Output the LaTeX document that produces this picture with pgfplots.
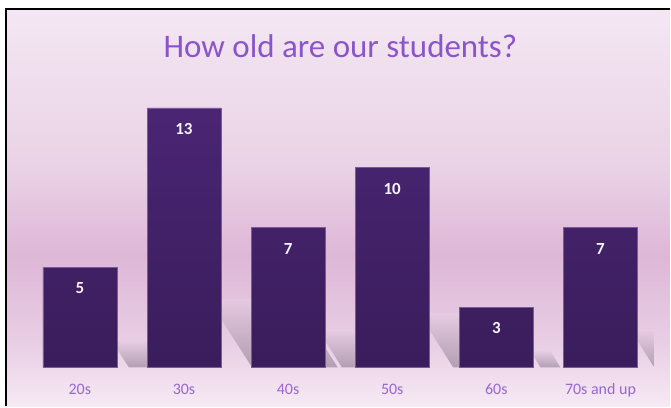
\documentclass[border=0pt]{standalone}
\usepackage{pgfplots}
\pgfplotsset{compat=1.18}
\usepackage{fontspec}
\setmainfont{Carlito}
\definecolor{bgtop}{HTML}{F4E7F3}
\definecolor{bgup}{HTML}{E9D2E5}
\definecolor{bgmid}{HTML}{DEB7D7}
\definecolor{bglow}{HTML}{E8CEE4}
\definecolor{bgbot}{HTML}{F6EAF4}
\definecolor{titlec}{HTML}{8A55C8}
\definecolor{tickc}{HTML}{9867CF}
\definecolor{bartop}{HTML}{4A2574}
\definecolor{barbot}{HTML}{3A1D5B}
\definecolor{baredge}{HTML}{7A5A9C}
\definecolor{shadowc}{HTML}{7E6E84}
\pgfdeclareverticalshading{bgshade}{100bp}{color(0bp)=(bgbot); color(25bp)=(bgbot); color(33bp)=(bglow); color(44bp)=(bgmid); color(55bp)=(bgup); color(75bp)=(bgtop); color(100bp)=(bgtop)}
\pgfplotsset{shadowstyle/.style={draw=none, top color=bglow, middle color=shadowc, bottom color=shadowc!85!bglow, fill opacity=0.62, forget plot}}
\begin{document}
\begin{tikzpicture}
\fill[white] (0bp,0bp) rectangle (671bp,407bp);
\shade[shading=bgshade] (6bp,0bp) rectangle (671bp,398bp);
\draw[line width=2.2bp, black] (6bp,0bp) -- (6bp,398bp) -- (671bp,398bp);
\node[font=\fontsize{33bp}{40bp}\selectfont, text=titlec, anchor=base] at (341bp,349bp) {How old are our students?};
\begin{axis}[
  at={(27.85bp,39bp)}, anchor=south west,
  scale only axis, width=626.8bp, height=280bp,
  xmin=-0.5, xmax=5.51, ymin=0, ymax=14,
  axis line style={draw=none}, tick style={draw=none},
  ytick=\empty,
  xtick={0,1,2,3,4,5},
  xticklabels={20s,30s,40s,50s,60s,70s and up},
  xticklabel style={font=\fontsize{16bp}{19bp}\selectfont, text=tickc, anchor=base, yshift=-27bp},
  /pgf/number format/assume math mode=true,
]
% shadows
\addplot[shadowstyle] coordinates {(0.470,0) (0.787,0) (0.624,1.35) (0.307,1.35)} -- cycle;
\addplot[shadowstyle] coordinates {(1.654,0) (2.477,0) (2.053,3.45) (1.230,3.45)} -- cycle;
\addplot[shadowstyle] coordinates {(2.516,0) (2.959,0) (2.731,1.9) (2.288,1.9)} -- cycle;
\addplot[shadowstyle] coordinates {(3.585,0) (4.218,0) (3.892,2.7) (3.259,2.7)} -- cycle;
\addplot[shadowstyle] coordinates {(4.424,0) (4.614,0) (4.516,0.85) (4.326,0.85)} -- cycle;
\addplot[shadowstyle] coordinates {(5.516,0) (5.959,0) (5.731,1.9) (5.288,1.9)} -- cycle;
% bars
\addplot[ybar, bar width=74bp, bar shift=0pt, draw=baredge, line width=0.6bp,
  top color=bartop, bottom color=barbot,
  nodes near coords,
  every node near coord/.append style={font=\bfseries\fontsize{17bp}{20bp}\selectfont, text=white!95!bartop, anchor=center, yshift=-21bp}]
  coordinates {(0,5) (1,13) (2,7) (3,10) (4,3) (5,7)};
\end{axis}
\end{tikzpicture}
\end{document}
